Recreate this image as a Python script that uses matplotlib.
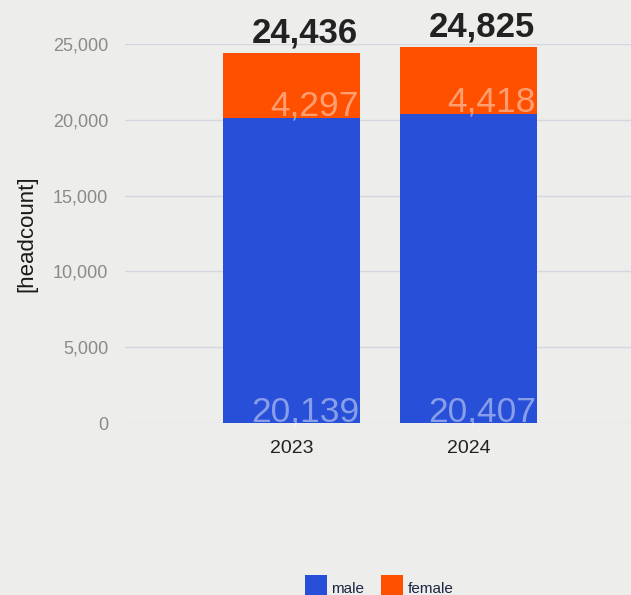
import matplotlib
matplotlib.use("Agg")
import matplotlib.pyplot as plt
from matplotlib.patches import Rectangle

years = ["2023", "2024"]
male = [20139, 20407]
female = [4297, 4418]
totals = [24436, 24825]
yticks = [0, 5000, 10000, 15000, 20000, 25000]

BG = "#ededeb"
BLUE = "#284fd8"
ORANGE = "#ff5000"
GRID = "#d6d6de"

plt.rcParams['font.family'] = ['Liberation Sans', 'DejaVu Sans']

fig = plt.figure(figsize=(6.31, 5.95), dpi=100, facecolor=BG)
ax = fig.add_axes([125/631, 172/595, 506/631, 379/595], facecolor=BG)

x = list(range(len(years)))
w = 0.774
ax.bar(x, male, width=w, color=BLUE, zorder=3)
ax.bar(x, female, width=w, bottom=male, color=ORANGE, zorder=3)

ax.set_xlim(-0.941, 1.918)
ax.set_ylim(0, 25000)
ax.set_yticks(yticks)
ax.set_yticklabels([f"{v:,}" for v in yticks])
ax.set_xticks(x)
ax.set_xticklabels(years)
ax.tick_params(axis='y', length=0, pad=12, labelsize=13, labelcolor="#8a8a8a")
ax.tick_params(axis='x', length=0, pad=12, labelsize=14, labelcolor="#222222")
ax.grid(axis='y', color=GRID, linewidth=1, zorder=0)
for s in ax.spines.values():
    s.set_visible(False)

ax.set_ylabel("[headcount]", fontsize=16, color="#1a1a1a")
ax.yaxis.set_label_coords((37 - 125) / 506, 0.5)

for i in x:
    right = i + w / 2
    ax.annotate(f"{male[i]:,}", (right, 0), xytext=(-1, 2), textcoords="offset pixels",
                ha="right", va="baseline", fontsize=25.5, color="white", alpha=0.45, zorder=4)
    ax.annotate(f"{female[i]:,}", (right, male[i]), xytext=(-1, 2), textcoords="offset pixels",
                ha="right", va="baseline", fontsize=25.5, color="white", alpha=0.45, zorder=4)
    ax.annotate(f"{totals[i]:,}", (right, totals[i]), xytext=(-2, 10), textcoords="offset pixels",
                ha="right", va="baseline", fontsize=25, fontweight="bold", color="#222222",
                annotation_clip=False, zorder=4)

# legend (bottom, partially clipped)
H = 595
for (lx, col, lab, tx) in [(305, BLUE, "male", 331.5), (381, ORANGE, "female", 407.5)]:
    fig.patches.append(Rectangle((lx / 631, 0), 22 / 631, (H - 575) / H,
                                 transform=fig.transFigure, facecolor=col, edgecolor="none"))
    fig.text(tx / 631, (H - 593) / H, lab, fontsize=11, color="#1c2440", ha="left", va="baseline")

fig.savefig("out.png", dpi=100, facecolor=BG)
